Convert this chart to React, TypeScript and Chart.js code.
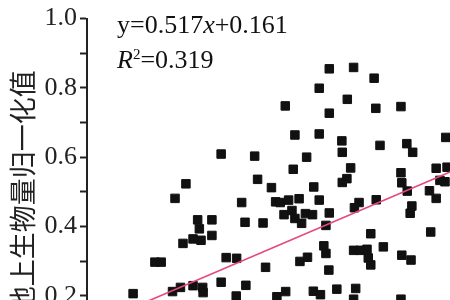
import React, { useEffect, useRef } from "react";
import { Chart, registerables } from "chart.js";

Chart.register(...registerables);

// Normalized values
const xValues = [
  0.010, 0.062, 0.077, 0.104, 0.123, 0.129, 0.136, 0.110, 0.153, 0.176,
  0.177, 0.153, 0.172, 0.168, 0.164, 0.198, 0.198, 0.220, 0.300, 0.220,
  0.232, 0.257, 0.256, 0.279, 0.269, 0.277, 0.320, 0.307, 0.340, 0.326,
  0.353, 0.374, 0.350, 0.361, 0.381, 0.406, 0.370, 0.389, 0.396, 0.412,
  0.392, 0.373, 0.396, 0.424, 0.408, 0.426, 0.421, 0.438, 0.441, 0.454,
  0.478, 0.470, 0.465, 0.470, 0.477, 0.440, 0.457, 0.496, 0.541, 0.536,
  0.649, 0.509, 0.529, 0.520, 0.509, 0.549, 0.538, 0.590, 0.577, 0.536,
  0.552, 0.568, 0.607, 0.571, 0.577, 0.651, 0.673, 0.649, 0.651, 0.664,
  0.717, 0.733, 0.675, 0.671, 0.720, 0.733, 0.759, 0.742, 0.754, 0.677,
  0.663, 0.599, 0.508, 0.454, 0.478, 0.536, 0.585, 0.454, 0.521, 0.478,
  0.589, 0.649, 0.756,
];
const yValues = [
  0.206, 0.297, 0.297, 0.212, 0.224, 0.351, 0.523, 0.481, 0.229, 0.224,
  0.209, 0.364, 0.360, 0.393, 0.419, 0.419, 0.374, 0.609, 0.603, 0.239,
  0.310, 0.308, 0.199, 0.230, 0.469, 0.412, 0.410, 0.536, 0.512, 0.282,
  0.197, 0.212, 0.471, 0.469, 0.476, 0.480, 0.434, 0.446, 0.423, 0.409,
  0.565, 0.748, 0.664, 0.600, 0.299, 0.311, 0.437, 0.434, 0.514, 0.476,
  0.439, 0.403, 0.344, 0.322, 0.274, 0.213, 0.203, 0.219, 0.221, 0.190,
  0.190, 0.614, 0.569, 0.538, 0.527, 0.469, 0.454, 0.477, 0.379, 0.331,
  0.331, 0.334, 0.341, 0.309, 0.289, 0.317, 0.303, 0.555, 0.526, 0.502,
  0.503, 0.481, 0.459, 0.438, 0.384, 0.568, 0.571, 0.533, 0.529, 0.614,
  0.639, 0.634, 0.647, 0.667, 0.855, 0.859, 0.828, 0.799, 0.767, 0.727,
  0.741, 0.746, 0.657,
];

const slope = 0.517;
const intercept = 0.161;
const r2 = 0.319;
const fitRange = [0.0, 0.9];
const yTitle = "地上生物量归一化值";

const SERIF = "'Liberation Serif', 'Times New Roman', serif";

export default function App() {
  const ref = useRef<HTMLCanvasElement | null>(null);

  useEffect(() => {
    const canvas = ref.current;
    if (!canvas) return;
    const points = xValues.map((x, i) => ({ x, y: yValues[i] }));
    const fit = fitRange.map((x) => ({ x, y: slope * x + intercept }));

    const annot = {
      id: "annot",
      afterDraw(chart: any) {
        const { ctx, chartArea } = chart;
        const x0 = chartArea.left + 30;
        const b1 = chartArea.top + 14;
        const b2 = chartArea.top + 49;
        ctx.save();
        ctx.fillStyle = "#111";
        ctx.textBaseline = "alphabetic";
        ctx.textAlign = "left";
        const parts1: [string, boolean][] = [
          ["y=" + "0." + "517".toString(), false],
          ["x", true],
          ["+" + intercept.toFixed(3), false],
        ];
        let cx = x0;
        parts1[0][0] = "y=" + slope.toFixed(3);
        for (const [t, it] of parts1) {
          ctx.font = (it ? "italic " : "") + "26px " + SERIF;
          ctx.fillText(t, cx, b1);
          cx += ctx.measureText(t).width;
        }
        cx = x0;
        ctx.font = "italic 26px " + SERIF;
        ctx.fillText("R", cx, b2);
        cx += ctx.measureText("R").width;
        ctx.font = "15px " + SERIF;
        ctx.fillText("2", cx, b2 - 9);
        cx += ctx.measureText("2").width;
        ctx.font = "26px " + SERIF;
        ctx.fillText("=" + r2.toFixed(3), cx, b2);
        ctx.restore();
      },
    };

    const chart = new Chart(canvas, {
      type: "scatter",
      data: {
        datasets: [
          {
            type: "line" as any,
            data: fit,
            borderColor: "#e44a78",
            borderWidth: 1.5,
            pointRadius: 0,
            fill: false,
          } as any,
          {
            data: points,
            pointStyle: "rect",
            pointRadius: 6,
            pointBackgroundColor: "#111",
            pointBorderColor: "#111",
            pointBorderWidth: 1,
          },
        ],
      },
      options: {
        animation: false,
        responsive: false,
        devicePixelRatio: 1,
        layout: { padding: { left: 0, top: 15, right: 10, bottom: 0 } },
        plugins: {
          legend: { display: false },
          tooltip: { enabled: false },
        },
        scales: {
          x: {
            type: "linear",
            min: -0.1,
            max: 1.1,
            ticks: { display: false },
            grid: { display: false },
            border: { display: true, color: "#222", width: 2 },
            afterFit: (s: any) => {
              s.height = 55;
            },
          },
          y: {
            type: "linear",
            min: 0,
            max: 1.0,
            ticks: {
              stepSize: 0.1,
              color: "#222",
              padding: 3,
              font: { family: SERIF, size: 26 },
              callback: (v: any) => {
                const n = Math.round(Number(v) * 10);
                return n % 2 === 0 ? (n / 10).toFixed(1) : "";
              },
            },
            grid: {
              drawOnChartArea: false,
              drawTicks: true,
              tickLength: 7,
              tickWidth: 2,
              tickColor: "#222",
            },
            border: { display: true, color: "#222", width: 2 },
            title: {
              display: true,
              text: yTitle,
              color: "#222",
              font: { family: "'Noto Sans CJK SC', sans-serif", size: 27 },
              padding: { top: 7, bottom: 0 },
            },
            afterFit: (s: any) => {
              s.width = 87;
            },
          },
        },
      },
      plugins: [annot],
    });
    return () => chart.destroy();
  }, []);

  return (
    <div
      style={{
        position: "absolute",
        left: 0,
        top: 0,
        width: 450,
        height: 300,
        overflow: "hidden",
        background: "#fff",
      }}
    >
      <canvas ref={ref} width={600} height={420} style={{ display: "block" }} />
    </div>
  );
}
